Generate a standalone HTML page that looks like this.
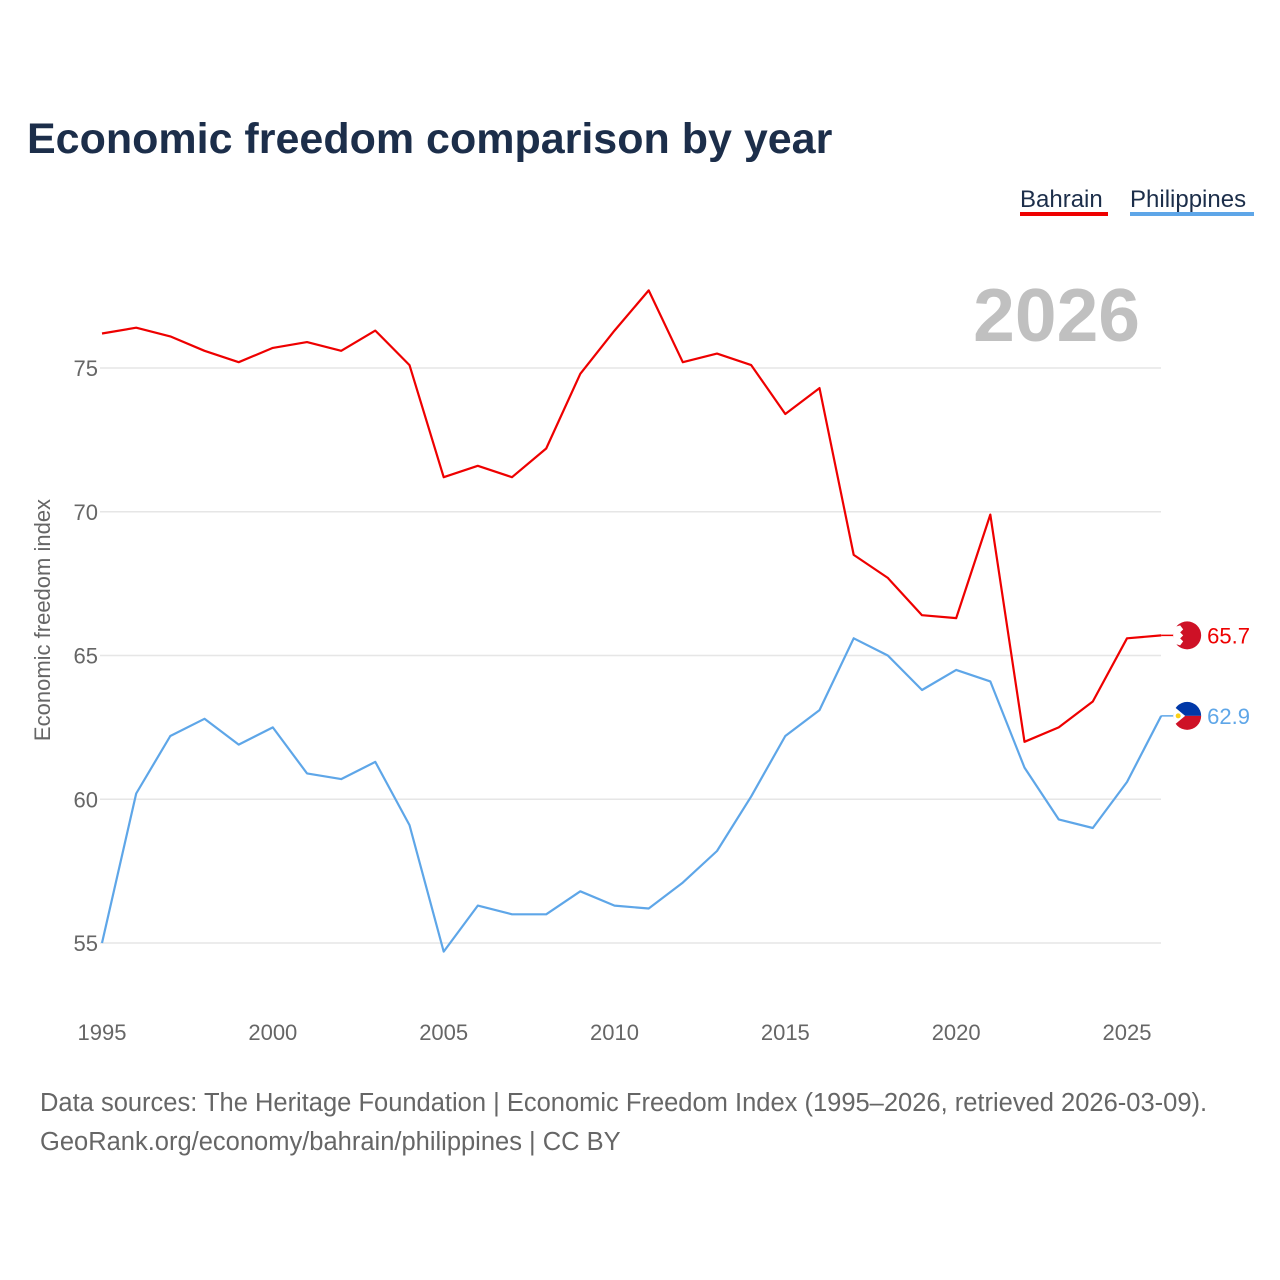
<!DOCTYPE html>
<html><head><meta charset="utf-8"><style>
body{margin:0;background:#fff;font-family:"Liberation Sans",sans-serif;}
</style></head><body>
<svg id="chart" width="1280" height="1280" viewBox="0 0 1280 1280" style="display:block">
<text x="27" y="153" font-size="43" font-weight="bold" fill="#1c2e4a">Economic freedom comparison by year</text>
<g><text x="1020" y="207" font-size="24" fill="#1c2e4a">Bahrain</text><rect x="1020" y="212" width="88" height="4" fill="#ee0000"/></g>
<g><text x="1130" y="207" font-size="24" fill="#1c2e4a">Philippines</text><rect x="1130" y="212" width="124" height="4" fill="#5ea6e8"/></g>
<text x="1140" y="341" font-size="75" font-weight="bold" fill="#c0c0c0" text-anchor="end">2026</text>
<g id="grid"></g><g id="xt"></g>
<text transform="translate(50,620) rotate(-90)" font-size="22" fill="#666" text-anchor="middle">Economic freedom index</text>
<g id="series"></g>
<text x="40" y="1111" font-size="25.5" fill="#666">Data sources: The Heritage Foundation | Economic Freedom Index (1995–2026, retrieved 2026-03-09).</text>
<text x="40" y="1150" font-size="25.5" fill="#666">GeoRank.org/economy/bahrain/philippines | CC BY</text>
</svg>
<script>
const years=[];for(let y=1995;y<=2026;y++)years.push(y);
const bahrain=[76.2,76.4,76.1,75.6,75.2,75.7,75.9,75.6,76.3,75.1,71.2,71.6,71.2,72.2,74.8,76.3,77.7,75.2,75.5,75.1,73.4,74.3,68.5,67.7,66.4,66.3,69.9,62.0,62.5,63.4,65.6,65.7];
const philippines=[55.0,60.2,62.2,62.8,61.9,62.5,60.9,60.7,61.3,59.1,54.7,56.3,56.0,56.0,56.8,56.3,56.2,57.1,58.2,60.1,62.2,63.1,65.6,65.0,63.8,64.5,64.1,61.1,59.3,59.0,60.6,62.9];
const yTicks=[55,60,65,70,75];
const xTicks=[1995,2000,2005,2010,2015,2020,2025];
const NS="http://www.w3.org/2000/svg";
const x=v=>102+(v-1995)*(1127-102)/30;
const y=v=>368+(75-v)*(943-368)/20;
function mk(t,a,p){const e=document.createElementNS(NS,t);for(const k in a)e.setAttribute(k,a[k]);p.appendChild(e);return e;}
const grid=document.getElementById('grid');
yTicks.forEach(t=>{
 const l=mk('line',{x1:100,x2:1161,y1:y(t),y2:y(t),stroke:'#e6e6e6','stroke-width':1.5},grid);
 
 
 const tx=mk('text',{x:98,y:y(t)+8,'font-size':22,fill:'#666','text-anchor':'end'},grid);tx.textContent=t;
 
 
});
const xt=document.getElementById('xt');
xTicks.forEach(t=>{
 const tx=mk('text',{x:x(t),y:1040,'font-size':22,fill:'#666','text-anchor':'middle'},xt);tx.textContent=t;
 
 
});
const s=document.getElementById('series');
function line(vals,col,name){
 const d=vals.map((v,i)=>(i?'L':'M')+x(years[i]).toFixed(1)+','+y(v).toFixed(1)).join('');
 const p=mk('path',{d:d,fill:'none',stroke:col,'stroke-width':2.2,'stroke-linejoin':'round'},s);
 
 
 const last=vals[vals.length-1],lx=x(years[years.length-1]),ly=y(last);
 mk('line',{x1:lx,x2:lx+14,y1:ly,y2:ly,stroke:col,'stroke-width':1.5},s);
 return [lx+26,ly,last];
}
const [bx,by,bv]=line(bahrain,'#ee0000','bahrain');
const [px,py,pv]=line(philippines,'#5ea6e8','philippines');
let g=mk('g',{},s);
mk('circle',{cx:bx,cy:by,r:14,fill:'#ce1126'},g);
mk('path',{d:`M${bx-14},${by-8}L${bx-7},${by-10}L${bx-4},${by-6}L${bx-7},${by-3}L${bx-4},${by}L${bx-7},${by+3}L${bx-4},${by+6}L${bx-7},${by+10}L${bx-14},${by+8}Z`,fill:'#fff'},g);
let t=mk('text',{x:bx+20,y:by+8,'font-size':22,fill:'#ee0000'},s);t.textContent=bv.toFixed(1);

g=mk('g',{},s);
mk('path',{d:`M${px-14},${py}A14,14 0 0 1 ${px+14},${py}Z`,fill:'#0038a8'},g);
mk('path',{d:`M${px-14},${py}A14,14 0 0 0 ${px+14},${py}Z`,fill:'#ce1126'},g);
mk('path',{d:`M${px-14},${py-10}L${px-2},${py}L${px-14},${py+10}Z`,fill:'#fff'},g);
mk('circle',{cx:px-9,cy:py,r:2.5,fill:'#fcd116'},g);
t=mk('text',{x:px+20,y:py+8,'font-size':22,fill:'#5ea6e8'},s);t.textContent=pv.toFixed(1);

</script>
</body></html>
